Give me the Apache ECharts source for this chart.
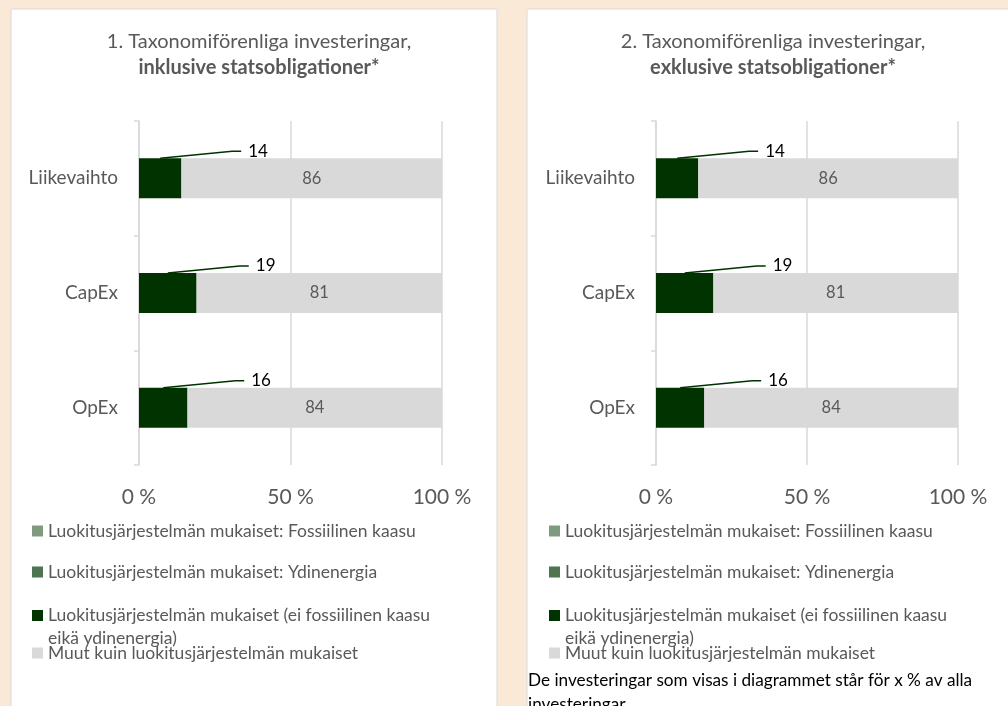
<!DOCTYPE html>
<html>
<head>
<meta charset="utf-8">
<script src="https://cdn.jsdelivr.net/npm/echarts@6/dist/echarts.min.js"></script>
<style>
  html, body { margin: 0; padding: 0; background: #FBE9D8; }
  #main { width: 1008px; height: 706px; }
</style>
</head>
<body>
<div id="main"></div>
<script>
// kategoriat ja arvot (%)
const categories = ['Liikevaihto', 'CapEx', 'OpEx']
const seriesNames = [
  'Luokitusjärjestelmän mukaiset: Fossiilinen kaasu',
  'Luokitusjärjestelmän mukaiset: Ydinenergia',
  'Luokitusjärjestelmän mukaiset (ei fossiilinen kaasu eikä ydinenergia)',
  'Muut kuin luokitusjärjestelmän mukaiset'
]
// 1. inklusive statsobligationer
const fossilGas1 = [0, 0, 0]
const nuclear1 = [0, 0, 0]
const aligned1 = [14, 19, 16]
const other1 = [86, 81, 84]
// 2. exklusive statsobligationer
const fossilGas2 = [0, 0, 0]
const nuclear2 = [0, 0, 0]
const aligned2 = [14, 19, 16]
const other2 = [86, 81, 84]
const xTicks = [0, 50, 100]

const colors = ['#809A80', '#4F7550', '#003300', '#D9D9D9']
const FONT = 'Lato'
const GREY_TEXT = '#595959'
const BAR_WIDTH = 40

const grids = [
  { left: 139, top: 121, width: 303, height: 344 },
  { left: 656, top: 121, width: 302, height: 344 }
]

// arvon selite palkin yläpuolelle oikealle
function calloutLayout(params) {
  const r = params.rect
  const cx = r.x + r.width / 2
  return {
    x: cx + 88,
    y: r.y - 7,
    align: 'left',
    verticalAlign: 'middle'
  }
}

// ohjausviiva palkin yläreunan keskeltä selitteeseen
function leaderLine(params, api) {
  const p = api.coord([api.value(0) / 2, api.value(1)])
  const cx = p[0]
  const top = p[1] - BAR_WIDTH / 2
  return {
    type: 'polyline',
    shape: { points: [[cx, top], [cx + 72, top - 7], [cx + 81, top - 7]] },
    style: { stroke: '#003300', lineWidth: 1.5, fill: null }
  }
}

function buildSeries(idx, fossil, nuclear, aligned, other) {
  const stack = 'p' + idx
  const common = { type: 'bar', stack: stack, xAxisIndex: idx, yAxisIndex: idx, barWidth: BAR_WIDTH }
  return [
    Object.assign({ name: seriesNames[0], data: fossil, itemStyle: { color: colors[0] } }, common),
    Object.assign({ name: seriesNames[1], data: nuclear, itemStyle: { color: colors[1] } }, common),
    Object.assign({
      name: seriesNames[2],
      data: aligned,
      itemStyle: { color: colors[2] },
      label: {
        show: true,
        position: 'top',
        color: '#000',
        fontFamily: FONT,
        fontSize: 17
      },
      labelLayout: calloutLayout
    }, common),
    Object.assign({
      name: seriesNames[3],
      data: other,
      itemStyle: { color: colors[3] },
      label: {
        show: true,
        position: 'inside',
        color: GREY_TEXT,
        fontFamily: FONT,
        fontSize: 16.5
      }
    }, common),
    {
      type: 'custom',
      xAxisIndex: idx,
      yAxisIndex: idx,
      silent: true,
      z: 3,
      data: aligned.map(function(v, i) { return [v, i] }),
      encode: { x: 0, y: 1 },
      renderItem: leaderLine
    }
  ]
}

function buildAxes(idx) {
  const xAxis = {
    type: 'value',
    gridIndex: idx,
    min: xTicks[0],
    max: xTicks[xTicks.length - 1],
    interval: xTicks[1] - xTicks[0],
    axisLine: { show: false },
    axisTick: { show: false },
    splitLine: { show: true, lineStyle: { color: '#D9D9D9', width: 1.5 } },
    axisLabel: {
      formatter: '{value} %',
      color: GREY_TEXT,
      fontFamily: FONT,
      fontSize: 21,
      margin: 22
    }
  }
  const yAxis = {
    type: 'category',
    gridIndex: idx,
    data: categories,
    inverse: true,
    axisLine: { show: true, lineStyle: { color: '#D9D9D9', width: 1.5 } },
    axisTick: { show: true, length: 5, lineStyle: { color: '#D9D9D9', width: 1.5 } },
    axisLabel: {
      color: GREY_TEXT,
      fontFamily: FONT,
      fontSize: 19,
      margin: 21
    }
  }
  return { xAxis: xAxis, yAxis: yAxis }
}

// selitteet: yksi legend-komponentti per rivi, jotta välit vastaavat kuvaa
function buildLegends(left) {
  const tops = [521, 562, 581, 643]
  return seriesNames.map(function(name, i) {
    const twoLine = i === 2
    return {
      data: [name],
      left: left,
      top: tops[i],
      padding: 0,
      icon: 'rect',
      itemWidth: 11,
      itemHeight: 11,
      selectedMode: false,
      // tyhjä ensimmäinen rivi: ruutu tasautuu ensimmäisen tekstirivin kanssa
      formatter: twoLine ? '\nLuokitusjärjestelmän mukaiset (ei fossiilinen kaasu\neikä ydinenergia)' : '{name}',
      textStyle: {
        color: GREY_TEXT,
        fontFamily: FONT,
        fontSize: 17.5,
        lineHeight: twoLine ? 23 : 20
      }
    }
  })
}

function buildTitle(centerX, num, bold) {
  return {
    left: centerX,
    top: 24,
    textAlign: 'center',
    text: '{a|' + num + '. Taxonomiförenliga investeringar,}\n{b|' + bold + '}',
    textStyle: {
      fontWeight: 'normal',
      rich: {
        a: { fontFamily: FONT, fontSize: 20, fontWeight: 'normal', color: GREY_TEXT, lineHeight: 26, align: 'center' },
        b: { fontFamily: FONT, fontSize: 20, fontWeight: 'bold', color: GREY_TEXT, lineHeight: 26, align: 'center' }
      }
    }
  }
}

const axes1 = buildAxes(0)
const axes2 = buildAxes(1)

const chart = echarts.init(document.getElementById('main'))
chart.setOption({
  backgroundColor: '#FBE9D8',
  animation: false,
  title: [
    buildTitle(254, '1', 'inklusive statsobligationer*'),
    buildTitle(768, '2', 'exklusive statsobligationer*')
  ],
  graphic: [
    {
      type: 'rect',
      z: -1,
      shape: { x: 11, y: 9, width: 486, height: 720 },
      style: { fill: '#fff', stroke: '#D9D9D9', lineWidth: 1 }
    },
    {
      type: 'rect',
      z: -1,
      shape: { x: 527, y: 9, width: 500, height: 720 },
      style: { fill: '#fff', stroke: '#D9D9D9', lineWidth: 1 }
    },
    {
      type: 'text',
      left: 528,
      top: 668,
      style: {
        text: 'De investeringar som visas i diagrammet står för x % av alla\ninvesteringar',
        fill: '#000',
        font: '17.2px ' + FONT,
        lineHeight: 24
      }
    }
  ],
  legend: buildLegends(32).concat(buildLegends(549)),
  grid: grids,
  xAxis: [axes1.xAxis, axes2.xAxis],
  yAxis: [axes1.yAxis, axes2.yAxis],
  series: buildSeries(0, fossilGas1, nuclear1, aligned1, other1)
    .concat(buildSeries(1, fossilGas2, nuclear2, aligned2, other2))
})
window.addEventListener('resize', function() {
  chart.resize()
})
</script>
</body>
</html>
